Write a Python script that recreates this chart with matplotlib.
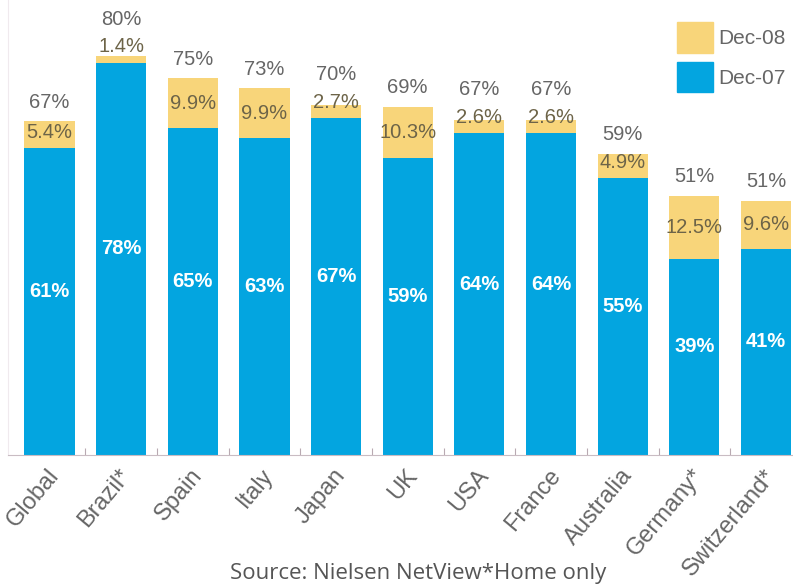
import matplotlib.pyplot as plt
from matplotlib.patches import Patch
from matplotlib.transforms import ScaledTranslation
import numpy as np

countries = ["Global", "Brazil*", "Spain", "Italy", "Japan", "UK", "USA",
             "France", "Australia", "Germany*", "Switzerland*"]
dec07 = [61, 78, 65, 63, 67, 59, 64, 64, 55, 39, 41]
growth = [5.4, 1.4, 9.9, 9.9, 2.7, 10.3, 2.6, 2.6, 4.9, 12.5, 9.6]
growth_labels = ["5.4%", "1.4%", "9.9%", "9.9%", "2.7%", "10.3%", "2.6%",
                 "2.6%", "4.9%", "12.5%", "9.6%"]
dec08 = [67, 80, 75, 73, 70, 69, 67, 67, 59, 51, 51]

blue = "#03a5e0"
yellow = "#f8d57a"
grey = "#666666"

plt.rcParams['font.family'] = ['Liberation Sans', 'DejaVu Sans']

fig = plt.figure(figsize=(7.93, 5.88), dpi=100)
ax = fig.add_axes([8 / 793, 133 / 588, 785 / 793, 455 / 588])

x = np.arange(len(countries))
ax.bar(x, dec07, width=0.70, color=blue, zorder=2)
ax.bar(x, growth, bottom=dec07, width=0.70, color=yellow, zorder=2)

ax.set_xlim(-0.579, 10.377)
ax.set_ylim(0, 90.5)

for s in ["top", "right"]:
    ax.spines[s].set_visible(False)
ax.spines["bottom"].set_color("#c9bcc3")
ax.spines["left"].set_color("#f0eaee")
ax.set_yticks([])
ax.set_xticks(x[:-1] + 0.5)
ax.tick_params(axis="x", direction="in", length=5, color="#b9aab2",
               labelbottom=False)

# value labels
for i in x:
    ax.text(i, dec07[i] / 2 + 2, f"{dec07[i]}%", ha="center", va="center",
            color="white", fontsize=14.5, fontweight="bold", zorder=3)
    ylab = dec07[i] + max(growth[i] / 2, 3.2)
    ax.text(i, ylab, growth_labels[i], ha="center", va="center",
            color="#6d6448", fontsize=14.5, zorder=3)
    ytop = max(dec07[i] + growth[i] + 3.8, ylab + 5.5)
    ax.text(i, ytop, f"{dec08[i]}%", ha="center", va="center",
            color=grey, fontsize=14.5, zorder=3)

# rotated category labels
off = ScaledTranslation(-3 / 100, -10 / 100, fig.dpi_scale_trans)
for i in x:
    ax.text(i, 0, countries[i], rotation=50, ha="right", va="top",
            rotation_mode="anchor", fontsize=17, color=grey,
            transform=ax.get_xaxis_transform() + off)

handles = [Patch(color=yellow, label="Dec-08"), Patch(color=blue, label="Dec-07")]
fig.legend(handles=handles, loc="upper left",
           bbox_to_anchor=(677 / 793, 1 - 22 / 588), frameon=False,
           fontsize=15, handlelength=1.75, handleheight=1.9,
           labelspacing=0.42, handletextpad=0.25, borderpad=0,
           borderaxespad=0, labelcolor=grey)

fig.text(418 / 793, 1 - 573 / 588, "Source: Nielsen NetView*Home only",
         ha="center", va="center", fontsize=16, color="#555555",
         family=["Open Sans", "DejaVu Sans"])

fig.savefig("out.png", dpi=100)
